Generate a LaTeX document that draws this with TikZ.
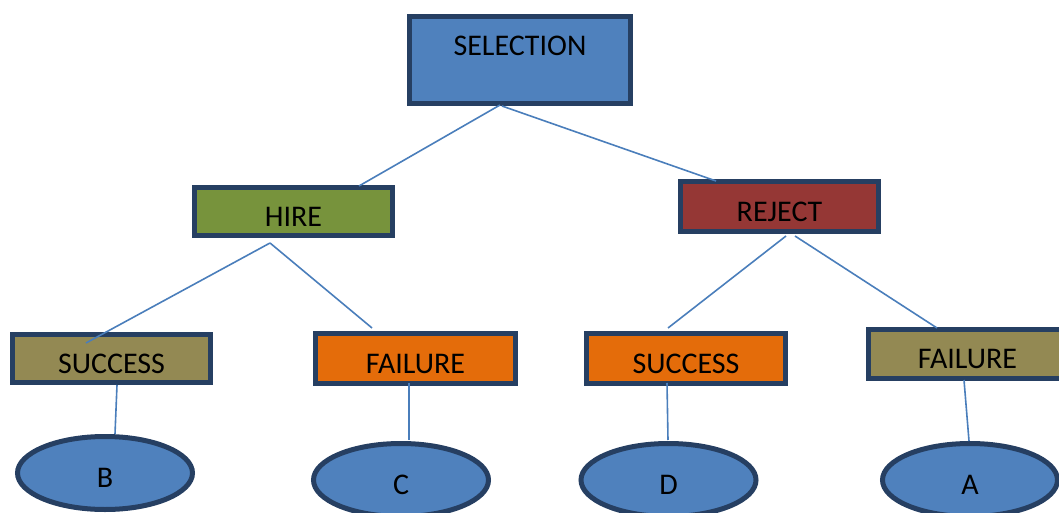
\documentclass[tikz,border=0pt]{standalone}
\usepackage{fontspec}
\setmainfont{Carlito}
\usetikzlibrary{shapes.geometric}
\definecolor{edgenavy}{RGB}{38,63,98}
\definecolor{boxblue}{RGB}{79,129,189}
\definecolor{boxgreen}{RGB}{119,147,60}
\definecolor{boxred}{RGB}{149,55,53}
\definecolor{boxolive}{RGB}{147,137,83}
\definecolor{boxorange}{RGB}{228,108,10}
\definecolor{linkblue}{RGB}{74,126,187}
\tikzset{
  box/.style={draw=edgenavy, line width=5pt, rectangle, inner sep=0pt, outer sep=0pt,
    font=\fontsize{30}{35}\selectfont, text=black},
  oval/.style={draw=edgenavy, line width=5pt, ellipse, fill=boxblue, inner sep=0pt, outer sep=0pt,
    minimum width=175pt, minimum height=73pt, text height=28.6pt, text depth=0pt,
    font=\fontsize{30}{35}\selectfont, text=black},
  link/.style={draw=linkblue, line width=1.6pt}
}
\begin{document}
\begin{tikzpicture}[x=1pt, y=-1pt]
\useasboundingbox (0,0) rectangle (1059,513);

% decision boxes
\node[box, fill=boxblue, minimum width=221pt, minimum height=87pt,
      text height=39.5pt, text depth=47.5pt] (sel) at (520,60) {SELECTION};
\node[box, fill=boxgreen, minimum width=198pt, minimum height=48pt,
      text height=39pt, text depth=9pt] (hire) at (293.5,211.5) {HIRE};
\node[box, fill=boxred, minimum width=198pt, minimum height=50pt,
      text height=40pt, text depth=10pt] (rej) at (779.5,206.5) {REJECT};
\node[box, fill=boxolive, minimum width=198pt, minimum height=48pt,
      text height=39pt, text depth=9pt] (hsucc) at (111.5,358.5) {SUCCESS};
\node[box, fill=boxorange, minimum width=200pt, minimum height=50pt,
      text height=40pt, text depth=10pt] (hfail) at (415.5,358.5) {FAILURE};
\node[box, fill=boxorange, minimum width=199pt, minimum height=50pt,
      text height=40pt, text depth=10pt] (rsucc) at (686,358.5) {SUCCESS};
\node[box, fill=boxolive, minimum width=198pt, minimum height=49pt,
      text height=39pt, text depth=10pt] (rfail) at (967.5,354) {FAILURE};

% outcomes
\node[oval] (b) at (105,473) {B};
\node[oval] (c) at (401,480) {C};
\node[oval] (d) at (668.5,480) {D};
\node[oval] (a) at (970,480) {A};

% connectors
\draw[link] ([shift={(-20,45)}]sel.center) -- ([shift={(65.5,-25.5)}]hire.center);
\draw[link] ([shift={(-18,46)}]sel.center) -- ([shift={(-63.5,-25.5)}]rej.center);
\draw[link] ([shift={(-23.5,31.5)}]hire.center) -- ([shift={(-25.5,-15.5)}]hsucc.center);
\draw[link] ([shift={(-23.5,31.5)}]hire.center) -- ([shift={(-43.5,-30.5)}]hfail.center);
\draw[link] ([shift={(6.5,29.5)}]rej.center) -- ([shift={(-18,-30.5)}]rsucc.center);
\draw[link] ([shift={(15.5,29.5)}]rej.center) -- ([shift={(-30.5,-26)}]rfail.center);
\draw[link] ([shift={(5.5,26.5)}]hsucc.center) -- ([shift={(10,-39)}]b.center);
\draw[link] ([shift={(-6.5,24.5)}]hfail.center) -- ([shift={(8,-40)}]c.center);
\draw[link] ([shift={(-19,24.5)}]rsucc.center) -- ([shift={(-0.5,-40)}]d.center);
\draw[link] ([shift={(-3.5,26)}]rfail.center) -- ([shift={(-1,-39)}]a.center);
\end{tikzpicture}
\end{document}
